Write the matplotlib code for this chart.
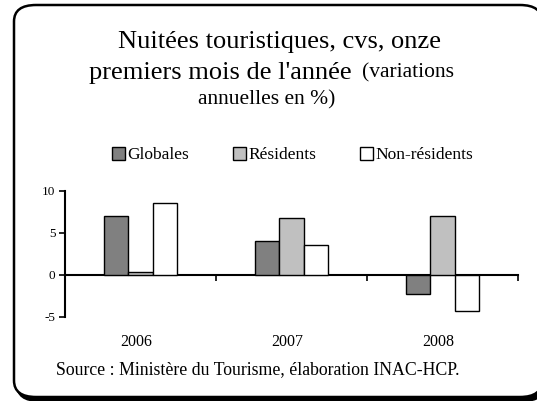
import matplotlib
matplotlib.use("Agg")
import matplotlib.pyplot as plt
import numpy as np
from matplotlib.patches import FancyBboxPatch
from matplotlib.transforms import blended_transform_factory

categories = ["2006", "2007", "2008"]
series_names = ["Globales", "Résidents", "Non-résidents"]
globales = [7.0, 4.0, -2.3]
residents = [0.3, 6.7, 7.0]
non_residents = [8.5, 3.5, -4.3]
series_values = [globales, residents, non_residents]
colors = ["#808080", "#c0c0c0", "#ffffff"]
yticks = [-5, 0, 5, 10]

W, H = 537, 401
plt.rcParams['font.family'] = ['Liberation Serif', 'DejaVu Serif']
fig = plt.figure(figsize=(W / 100, H / 100), dpi=100)

def fx(px):
    return px / W

def fy(py):
    return 1 - py / H

# rounded frame with shadow
r = 22 / W
shadow = FancyBboxPatch((fx(17), fy(401)), fx(545) - fx(17), fy(8) - fy(401),
                        boxstyle=f"round,pad=0,rounding_size={r}",
                        transform=fig.transFigure, facecolor="black",
                        edgecolor="black", lw=1.5, zorder=0)
frame = FancyBboxPatch((fx(14), fy(397)), fx(542) - fx(14), fy(5) - fy(397),
                       boxstyle=f"round,pad=0,rounding_size={r}",
                       transform=fig.transFigure, facecolor="white",
                       edgecolor="black", lw=1.8, zorder=1)
fig.patches.extend([shadow, frame])

ax = fig.add_axes([fx(65), fy(316.7), fx(518) - fx(65), fy(190.7) - fy(316.7)])
ax.set_zorder(2)
ax.patch.set_alpha(0)

n = len(categories)
x = np.arange(n)
bw = 0.159
for i, (vals, c) in enumerate(zip(series_values, colors)):
    ax.bar(x + (i - 1) * bw, vals, width=bw, color=c, edgecolor="black",
           linewidth=1.0, label=series_names[i], zorder=3)

ax.set_xlim(-0.5, n - 0.5)
ax.set_ylim(-5, 10)
ax.set_yticks(yticks)
ax.set_yticklabels([str(t) for t in yticks], fontsize=9.5)
ax.spines['top'].set_visible(False)
ax.spines['right'].set_visible(False)
ax.spines['left'].set_linewidth(1.5)
ax.spines['bottom'].set_position(('data', 0))
ax.spines['bottom'].set_linewidth(1.5)
ax.set_xticks(np.arange(n + 1) - 0.5)
ax.set_xticklabels([])
ax.tick_params(axis='x', direction='out', length=4, width=1.2)
ax.tick_params(axis='y', direction='out', length=4, width=1.2, pad=3)

trans = blended_transform_factory(ax.transData, ax.transAxes)
for xi, cat in zip(x, categories):
    ax.text(xi - 0.03, -0.2, cat, transform=trans, ha='center', va='center', fontsize=11.5)

# legend
leg = fig.legend(loc='center left', bbox_to_anchor=(fx(112), fy(155)), ncol=3,
                 frameon=False, fontsize=12.5, handlelength=0.75, handleheight=0.75,
                 handletextpad=0.15, columnspacing=2.5, borderpad=0, borderaxespad=0)

# title
fig.text(fx(280), fy(42), "Nuitées touristiques, cvs, onze", ha='center', va='center', fontsize=19)
fig.text(fx(89), fy(73), "premiers mois de l'année", ha='left', va='center', fontsize=19)
fig.text(fx(362), fy(73), "(variations", ha='left', va='center', fontsize=15.5)
fig.text(fx(267), fy(100), "annuelles en %)", ha='center', va='center', fontsize=15.5)

fig.text(fx(258), fy(370), "Source : Ministère du Tourisme, élaboration INAC-HCP.",
         ha='center', va='center', fontsize=12.8)

fig.savefig("out.png", dpi=100)
